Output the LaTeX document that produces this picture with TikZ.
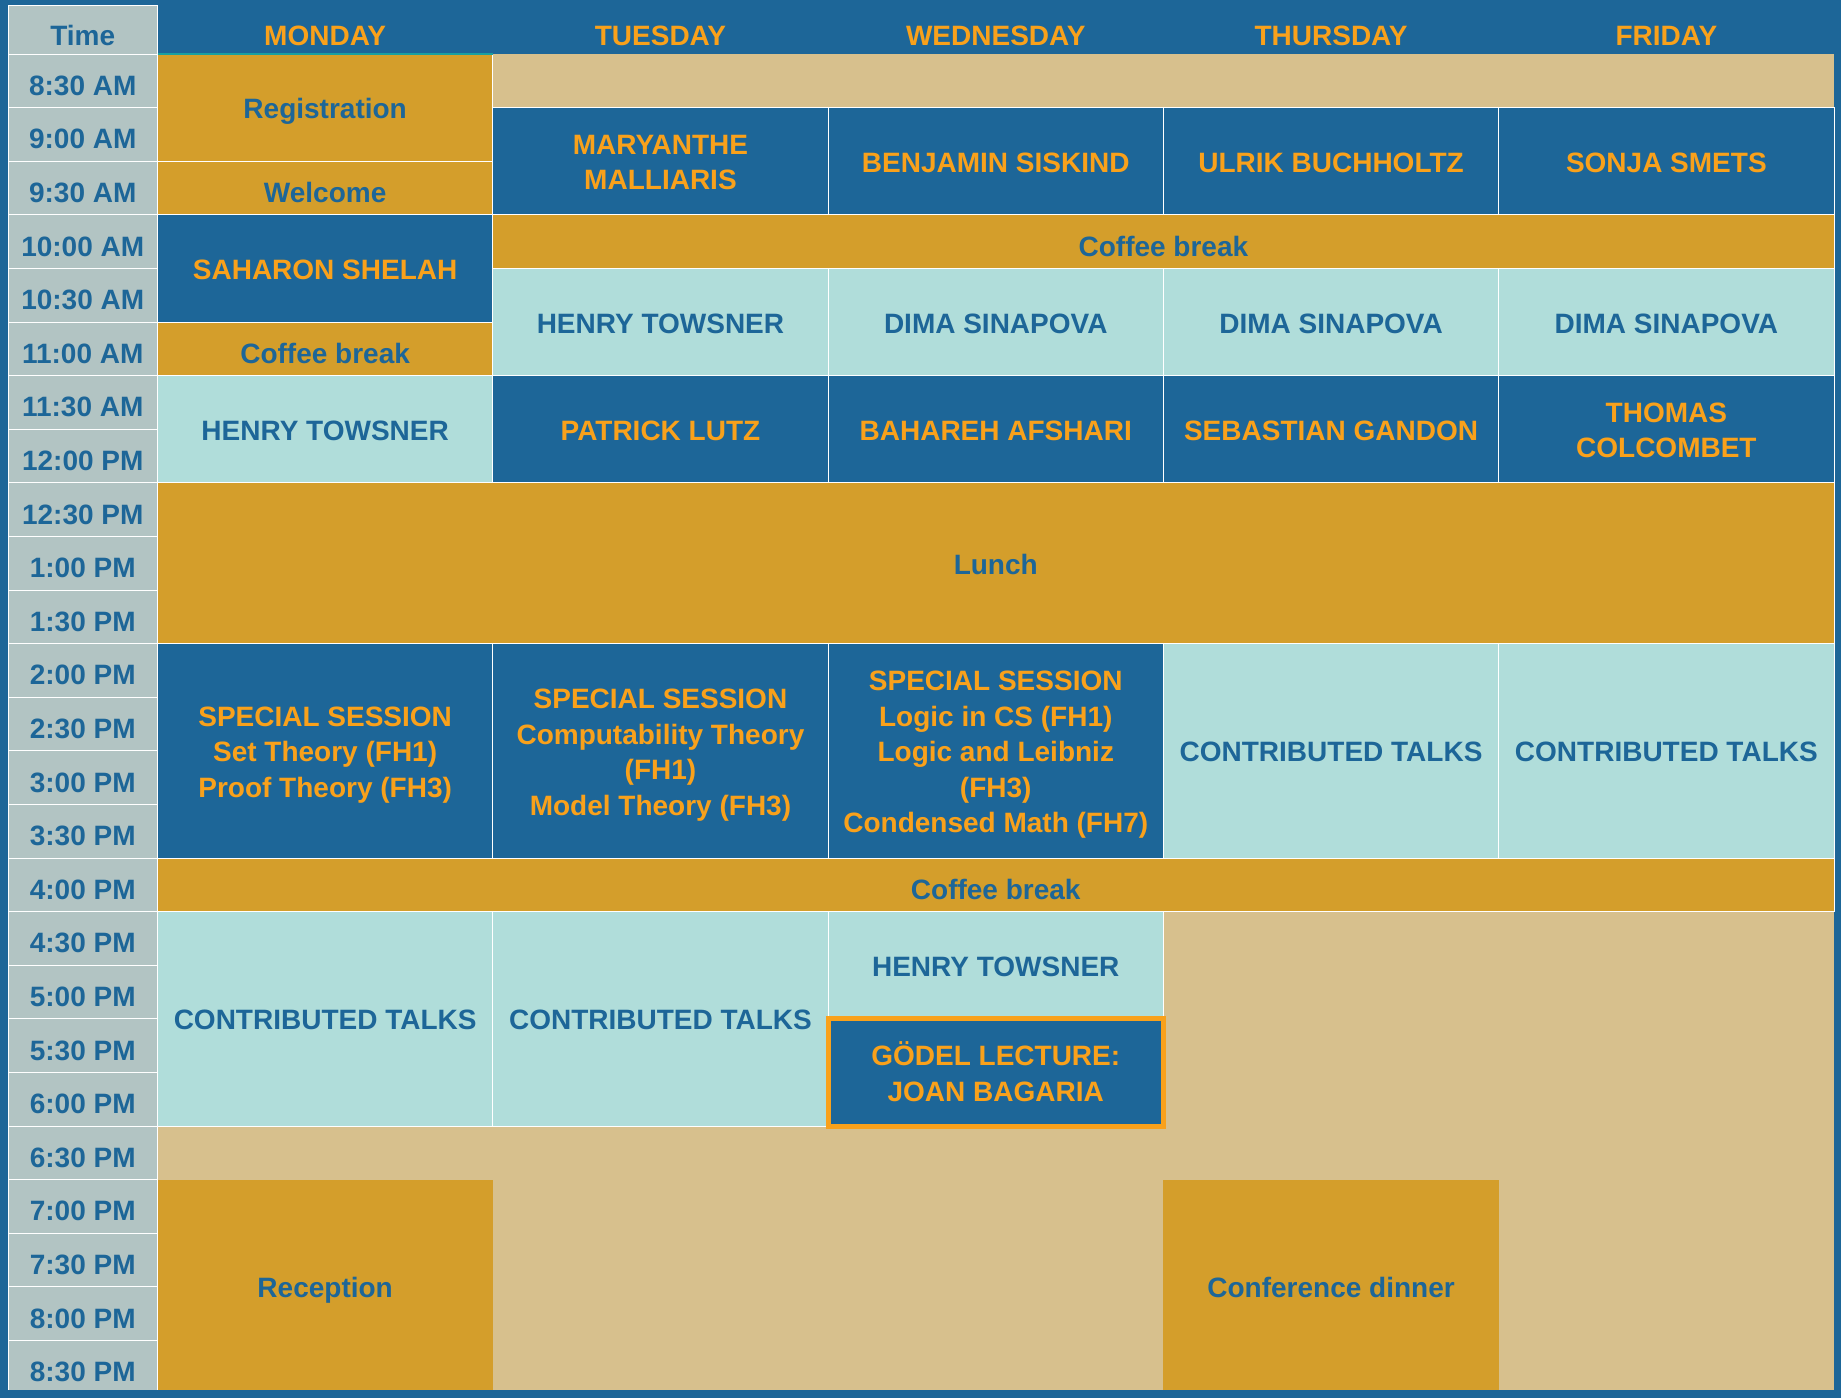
\documentclass[tikz,border=0pt]{standalone}
\usepackage{fontspec}
\setmainfont{Liberation Sans}
\usepackage{tikz}
\definecolor{navy}{RGB}{29,102,152}
\definecolor{gold}{RGB}{212,158,43}
\definecolor{sand}{RGB}{215,192,141}
\definecolor{mint}{RGB}{176,221,218}
\definecolor{slate}{RGB}{178,196,195}
\definecolor{amber}{RGB}{249,161,27}
\definecolor{tealline}{RGB}{26,160,160}

\begin{document}
\begin{tikzpicture}[x=1pt, y=-1pt,
    txt/.style={font=\fontsize{28}{35.5}\selectfont\bfseries, align=center, inner sep=0pt},
    cell/.style={draw=white, line width=1pt, inner sep=0pt, outer sep=0pt},
    timecell/.style={cell, fill=slate, minimum width=149.5, minimum height=53.6}
]

% background and empty slots
\fill[navy] (0,0) rectangle (1841,1398);
\fill[sand] (157.5,54) rectangle (1834,1390);

% header row
\node[timecell, minimum height=49] (timehead) at (82.75,29.5) {};
\node[txt, text=navy] (timelbl) at (82.75,45) {\smash{Time}};
\foreach \day [count=\i from 0] in {MONDAY,TUESDAY,WEDNESDAY,THURSDAY,FRIDAY}
  \node[txt, text=amber] (day-\i) at ({157.5+335.3*(\i+0.5)},45) {\smash{\day}};

% time column
\foreach \hour [count=\i from 0] in {8:30 AM,9:00 AM,9:30 AM,10:00 AM,10:30 AM,11:00 AM,
    11:30 AM,12:00 PM,12:30 PM,1:00 PM,1:30 PM,2:00 PM,2:30 PM,3:00 PM,3:30 PM,4:00 PM,
    4:30 PM,5:00 PM,5:30 PM,6:00 PM,6:30 PM,7:00 PM,7:30 PM,8:00 PM,8:30 PM}{
  \node[timecell] (slot-\i) at (82.75,54+53.6*\i+26.8) {};
  \node[txt, text=navy] (hour-\i) at (82.75,54+53.6*\i+41.3) {\smash{\hour}};
}

% sessions: column/columns/row/rows/fill/border/text colour/text
\foreach \col/\cols/\row/\rows/\fc/\dc/\tc/\lbl in {
    0/1/0/2/gold/white/navy/{\smash{Registration}},
    0/1/2/1/gold/white/navy/{\smash{Welcome}},
    0/1/3/2/navy/white/amber/{\smash{SAHARON SHELAH}},
    0/1/5/1/gold/white/navy/{\smash{Coffee break}},
    0/1/6/2/mint/white/navy/{\smash{HENRY TOWSNER}},
    1/1/1/2/navy/white/amber/{\smash{MARYANTHE}\\\smash{MALLIARIS}},
    2/1/1/2/navy/white/amber/{\smash{BENJAMIN SISKIND}},
    3/1/1/2/navy/white/amber/{\smash{ULRIK BUCHHOLTZ}},
    4/1/1/2/navy/white/amber/{\smash{SONJA SMETS}},
    1/4/3/1/gold/white/navy/{\smash{Coffee break}},
    1/1/4/2/mint/white/navy/{\smash{HENRY TOWSNER}},
    2/1/4/2/mint/white/navy/{\smash{DIMA SINAPOVA}},
    3/1/4/2/mint/white/navy/{\smash{DIMA SINAPOVA}},
    4/1/4/2/mint/white/navy/{\smash{DIMA SINAPOVA}},
    1/1/6/2/navy/white/amber/{\smash{PATRICK LUTZ}},
    2/1/6/2/navy/white/amber/{\smash{BAHAREH AFSHARI}},
    3/1/6/2/navy/white/amber/{\smash{SEBASTIAN GANDON}},
    4/1/6/2/navy/white/amber/{\smash{THOMAS}\\\smash{COLCOMBET}},
    0/5/8/3/gold/white/navy/{\smash{Lunch}},
    0/1/11/4/navy/white/amber/{\smash{SPECIAL SESSION}\\\smash{Set Theory (FH1)}\\\smash{Proof Theory (FH3)}},
    1/1/11/4/navy/white/amber/{\smash{SPECIAL SESSION}\\\smash{Computability Theory}\\\smash{(FH1)}\\\smash{Model Theory (FH3)}},
    2/1/11/4/navy/white/amber/{\smash{SPECIAL SESSION}\\\smash{Logic in CS (FH1)}\\\smash{Logic and Leibniz}\\\smash{(FH3)}\\\smash{Condensed Math (FH7)}},
    3/1/11/4/mint/white/navy/{\smash{CONTRIBUTED TALKS}},
    4/1/11/4/mint/white/navy/{\smash{CONTRIBUTED TALKS}},
    0/5/15/1/gold/white/navy/{\smash{Coffee break}},
    0/1/16/4/mint/white/navy/{\smash{CONTRIBUTED TALKS}},
    1/1/16/4/mint/white/navy/{\smash{CONTRIBUTED TALKS}},
    2/1/16/2/mint/white/navy/{\smash{HENRY TOWSNER}},
    0/1/21/4/gold/none/navy/{\smash{Reception}},
    3/1/21/4/gold/none/navy/{\smash{Conference dinner}}}{
  \pgfmathsetmacro\cx{157.5+335.3*(\col+\cols/2)}
  \pgfmathsetmacro\cy{54+53.6*(\row+\rows/2)}
  \pgfmathsetmacro\off{\rows==1 ? 14.5 : 11}
  \node[cell, fill=\fc, draw=\dc, minimum width=335.3*\cols, minimum height=53.6*\rows] (c-\col-\row) at (\cx,\cy) {};
  \node[txt, text=\tc] (t-\col-\row) at (\cx,\cy+\off) {\lbl};
}

% Goedel lecture
\node[cell, fill=navy, draw=amber, line width=5pt, minimum width=335.3, minimum height=107.2] (godel) at (995.75,1072.4) {};
\node[txt, text=amber] (godeltxt) at (995.75,1083.4) {\smash{GÖDEL LECTURE:}\\\smash{JOAN BAGARIA}};

% line under monday
\draw[tealline, line width=2pt] (c-0-0.north west) -- (c-0-0.north east);

% bottom edge
\fill[navy] (0,1390) rectangle (1841,1398);

\end{tikzpicture}
\end{document}
